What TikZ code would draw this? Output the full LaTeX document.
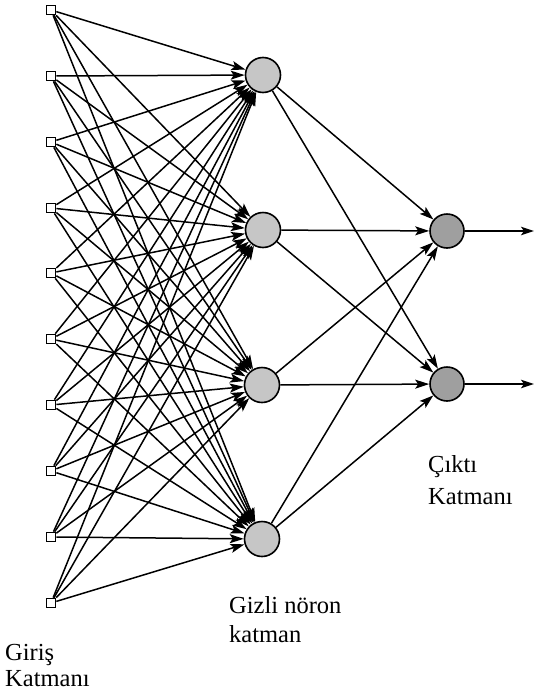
\documentclass[tikz,border=0pt]{standalone}
\usepackage{fontspec}
\setmainfont{Liberation Serif}
\usetikzlibrary{arrows.meta}
\begin{document}
\begin{tikzpicture}[x=1pt,y=-1pt,
  inp/.style={draw=black, fill=white, minimum size=9.5pt, inner sep=0pt, line width=1.2pt},
  hid/.style={circle, draw=black, line width=1.6pt, fill=gray!45, minimum size=35pt, inner sep=0pt},
  outn/.style={circle, draw=black, line width=1.6pt, fill=gray!75, minimum size=34pt, inner sep=0pt},
  conn/.style={line width=1.5pt, draw=black, -{Stealth[length=14pt,width=9pt,inset=3pt]}},
  oarr/.style={line width=1.5pt, draw=black, -{Stealth[length=13pt,width=8.5pt,inset=3pt]}},
  lbl/.style={anchor=north west, inner sep=0pt, align=left, font=\fontsize{24.5}{29}\selectfont}
]
\useasboundingbox (0,0) rectangle (535,691);
% input squares
\foreach \i/\y in {1/10,2/76,3/142,4/208,5/273,6/339,7/405,8/471,9/537,10/603}
  \node[inp] (in\i) at (51,\y) {};
% hidden neurons
\node[hid] (h1) at (263,75) {};
\node[hid] (h2) at (263,230) {};
\node[hid] (h3) at (262,385) {};
\node[hid] (h4) at (262,539) {};
% output neurons
\node[outn] (o1) at (447,231) {};
\node[outn] (o2) at (447,384) {};
\coordinate (e1) at (534,231);
\coordinate (e2) at (534,384);
% input -> hidden
\foreach \i in {1,...,10}
  \foreach \h in {1,...,4}
    \draw[conn] (in\i) -- (h\h);
% hidden -> output
\foreach \h in {1,...,4}
  \foreach \o in {1,2}
    \draw[conn] (h\h) -- (o\o);
% output arrows
\draw[oarr] (o1) -- (e1);
\draw[oarr] (o2) -- (e2);
% labels
\node[lbl] (lin) at (5,644) {Giriş\\[-3pt]Katmanı};
\node[lbl] (lhid) at (229,596.5) {Gizli nöron\\katman};
\node[lbl] (lout) at (428,455.5) {Çıktı\\[3pt]Katmanı};
\end{tikzpicture}
\end{document}
